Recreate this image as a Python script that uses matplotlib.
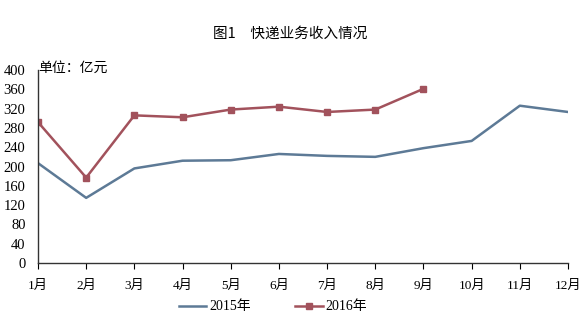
import matplotlib
matplotlib.use("Agg")
import matplotlib.pyplot as plt

plt.rcParams["font.family"] = ["Liberation Serif", "Noto Sans CJK SC"]

months = ["1月", "2月", "3月", "4月", "5月", "6月", "7月", "8月", "9月", "10月", "11月", "12月"]
income_2015 = [207, 135, 196, 212, 213, 226, 222, 220, 238, 253, 326, 313]
income_2016 = [292, 177, 306, 302, 318, 324, 313, 318, 361]
y_ticks = list(range(0, 401, 40))

fig = plt.figure(figsize=(5.81, 3.18), dpi=100)
ax = fig.add_axes([38 / 581, 55 / 318, 530 / 581, 193 / 318])

x15 = range(len(income_2015))
x16 = range(len(income_2016))
ax.plot(x15, income_2015, color="#5d7a96", linewidth=1.8, label="2015年")
ax.plot(x16, income_2016, color="#a2525c", linewidth=1.8, marker="s",
        markersize=5, label="2016年")

ax.set_xlim(0, len(months) - 1)
ax.set_ylim(0, 400)
ax.set_xticks(list(x15))
ax.set_xticklabels(months, fontsize=9.5)
ax.set_yticks(y_ticks)
ax.set_yticklabels([str(v) for v in y_ticks], fontsize=10.5)
ax.tick_params(axis="y", length=0, pad=9)
ax.tick_params(axis="x", direction="out", length=4, width=0.8, pad=8)

for side in ["top", "right"]:
    ax.spines[side].set_visible(False)
for side in ["left", "bottom"]:
    ax.spines[side].set_color("#333333")
    ax.spines[side].set_linewidth(1.0)

fig.text(0.5, 0.895, "图1　快递业务收入情况", ha="center", va="center",
         fontsize=10.5, family=["Noto Sans CJK SC"])
ax.text(0.0, 1.01, "单位：亿元", transform=ax.transAxes, ha="left", va="center",
        fontsize=10, family=["Noto Sans CJK SC"])

fig.legend(loc="lower center", bbox_to_anchor=(0.47, -0.025), ncol=2,
           frameon=False, fontsize=10, handlelength=2.0, handletextpad=0.2,
           columnspacing=3.2)

fig.savefig("out.png", dpi=100)
